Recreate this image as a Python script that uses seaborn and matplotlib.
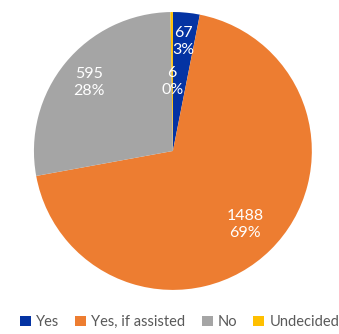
import numpy as np
import matplotlib
matplotlib.use('Agg')
import matplotlib.pyplot as plt
import seaborn as sns

# Data
categories = ['Yes', 'Yes, if assisted', 'No', 'Undecided']
counts = [67, 1488, 595, 6]
percent_labels = ['3%', '69%', '28%', '0%']

palette = sns.color_palette(['#0433A3', '#ED7D31', '#A5A5A5', '#FFC000'])
# distance of each label from the centre (fraction of radius)
label_dist = [0.79, 0.74, 0.78, 0.50]

sns.set_style('white')
plt.rcParams['font.family'] = ['Lato', 'DejaVu Sans']

fig = plt.figure(figsize=(3.39, 3.34), dpi=100)
ax = fig.add_axes([0.100, 0.132, 0.820, 0.832])

wedges, _ = ax.pie(counts, colors=palette, startangle=90, counterclock=False,
                   radius=1.0, wedgeprops=dict(linewidth=0))

for w, n, p, d in zip(wedges, counts, percent_labels, label_dist):
    ang = np.deg2rad((w.theta1 + w.theta2) / 2)
    ax.text(d * np.cos(ang), d * np.sin(ang), f'{n}\n{p}', color='white',
            ha='center', va='center', fontsize=11.5, linespacing=1.3)

ax.set_xlim(-1, 1)
ax.set_ylim(-1, 1)
ax.set_aspect('equal')
ax.axis('off')

fig.legend(wedges, categories, loc='lower center', bbox_to_anchor=(0.53, -0.025),
           ncol=4, frameon=False, fontsize=10.5, handlelength=0.75, handleheight=0.75,
           handletextpad=0.35, columnspacing=1.1, labelcolor='#595959')

plt.savefig('out.png', dpi=100)
